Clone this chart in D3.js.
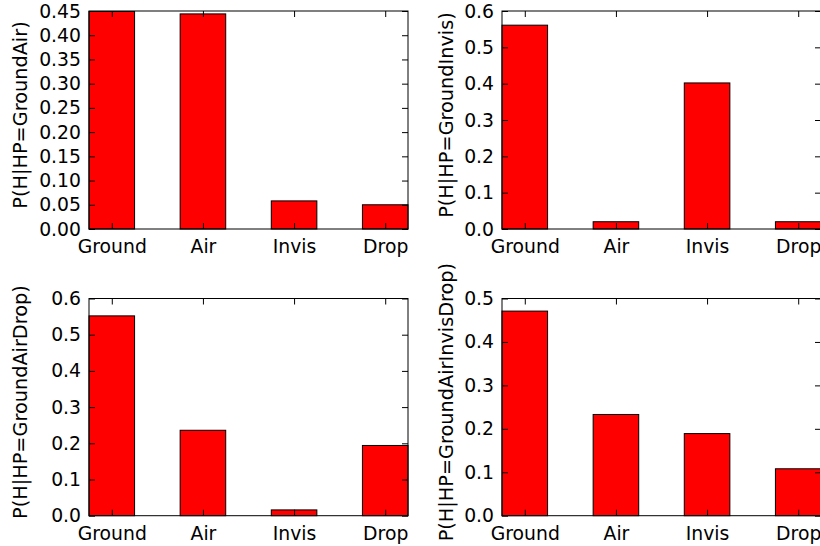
<!DOCTYPE html>
<html>
<head>
<meta charset="utf-8">
<script src="https://cdn.jsdelivr.net/npm/d3@7/dist/d3.min.js"></script>
<style>
  html, body { margin: 0; padding: 0; background: #ffffff; overflow: hidden; }
  svg { display: block; }
  text { font-family: "DejaVu Sans", sans-serif; fill: #000; }
</style>
</head>
<body>
<svg id="chart" width="820" height="546"></svg>
<script>
// ---- data ----
const categories = ["Ground", "Air", "Invis", "Drop"];
const yLabels = ["P(H|HP=GroundAir)", "P(H|HP=GroundInvis)", "P(H|HP=GroundAirDrop)", "P(H|HP=GroundAirInvisDrop)"];
const valuesGroundAir = [0.449, 0.444, 0.058, 0.050];
const valuesGroundInvis = [0.561, 0.020, 0.402, 0.020];
const valuesGroundAirDrop = [0.552, 0.236, 0.016, 0.194];
const valuesGroundAirInvisDrop = [0.471, 0.233, 0.189, 0.108];
const yMaxes = [0.45, 0.6, 0.6, 0.5];
const yTickSteps = [0.05, 0.1, 0.1, 0.1];
const yTickFormats = [".2f", ".1f", ".1f", ".1f"];

const series = [valuesGroundAir, valuesGroundInvis, valuesGroundAirDrop, valuesGroundAirInvisDrop];

// ---- layout ----
const panels = [
  { x0: 89, x1: 408, y0: 11, y1: 229, labelX: 26.5 },
  { x0: 502, x1: 821, y0: 11, y1: 229, labelX: 453 },
  { x0: 89, x1: 408, y0: 298.5, y1: 515.7, labelX: 26.5 },
  { x0: 502, x1: 821, y0: 298.5, y1: 515.7, labelX: 453 }
];
const tickFontSize = 18.8;
const labelFontSize = 19.3;
const svg = d3.select("#chart");

panels.forEach((p, k) => {
  const values = series[k];
  const x = d3.scaleLinear().domain([0, 3.5]).range([p.x0, p.x1]);
  const y = d3.scaleLinear().domain([0, yMaxes[k]]).range([p.y1, p.y0]);
  const g = svg.append("g");

  // bars (edge-aligned, width 0.5)
  g.selectAll("rect.bar").data(values).enter().append("rect")
    .attr("class", "bar")
    .attr("x", (d, i) => x(i))
    .attr("width", (d, i) => x(i + 0.5) - x(i))
    .attr("y", d => y(d))
    .attr("height", d => y(0) - y(d))
    .attr("fill", "#ff0000")
    .attr("stroke", "#000")
    .attr("stroke-width", 1);

  // frame
  g.append("rect")
    .attr("x", p.x0).attr("y", p.y0)
    .attr("width", p.x1 - p.x0).attr("height", p.y1 - p.y0)
    .attr("fill", "none").attr("stroke", "#000").attr("stroke-width", 1);

  const xTickVals = categories.map((c, i) => i + 0.25);
  const nT = Math.round(yMaxes[k] / yTickSteps[k]);
  const yTickVals = d3.range(nT + 1).map(i => +(i * yTickSteps[k]).toFixed(4));

  // bottom axis
  const xb = g.append("g").attr("transform", `translate(0,${p.y1})`)
    .call(d3.axisBottom(x).tickValues(xTickVals)
      .tickFormat((d, i) => categories[i])
      .tickSizeInner(-6).tickSizeOuter(0).tickPadding(11));
  // top axis
  const xt = g.append("g").attr("transform", `translate(0,${p.y0})`)
    .call(d3.axisTop(x).tickValues(xTickVals).tickFormat("")
      .tickSizeInner(-6).tickSizeOuter(0));
  // left axis
  const yl = g.append("g").attr("transform", `translate(${p.x0},0)`)
    .call(d3.axisLeft(y).tickValues(yTickVals).tickFormat(d3.format(yTickFormats[k]))
      .tickSizeInner(-6).tickSizeOuter(0).tickPadding(8));
  // right axis
  const yr = g.append("g").attr("transform", `translate(${p.x1},0)`)
    .call(d3.axisRight(y).tickValues(yTickVals).tickFormat("")
      .tickSizeInner(-6).tickSizeOuter(0));

  [xb, xt, yl, yr].forEach(a => {
    a.select(".domain").remove();
    a.selectAll("line").attr("stroke", "#000").attr("stroke-width", 1);
    a.selectAll("text")
      .attr("font-family", "DejaVu Sans, sans-serif")
      .attr("font-size", tickFontSize)
      .attr("fill", "#000");
  });

  // y label
  const cy = (p.y0 + p.y1) / 2 - 5;
  g.append("text")
    .attr("transform", `translate(${p.labelX},${cy}) rotate(-90)`)
    .attr("text-anchor", "middle")
    .attr("font-size", labelFontSize)
    .text(yLabels[k]);
});
</script>
</body>
</html>
